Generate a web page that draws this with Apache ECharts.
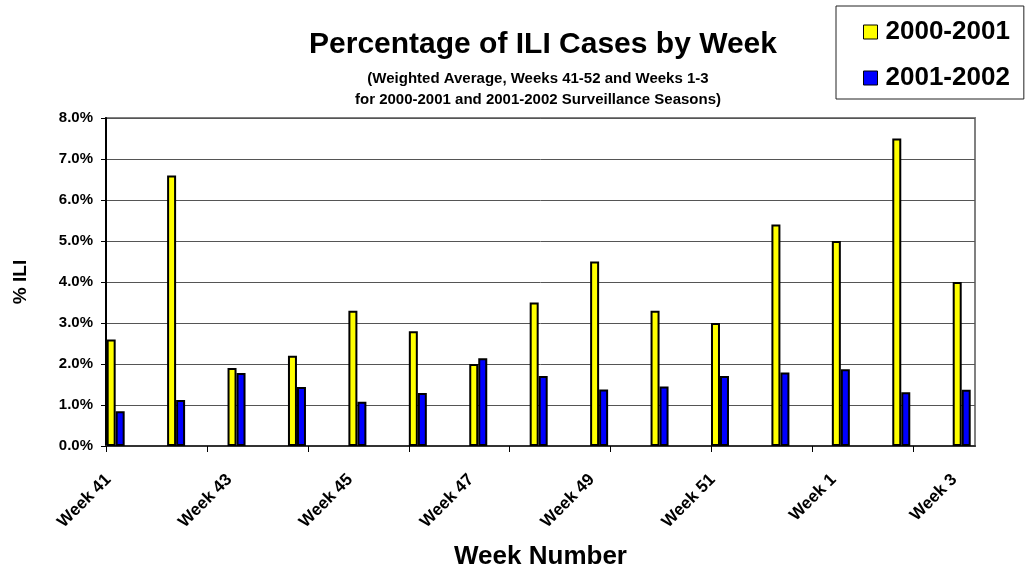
<!DOCTYPE html>
<html>
<head>
<meta charset="utf-8">
<script src="https://cdn.jsdelivr.net/npm/echarts@6/dist/echarts.min.js"></script>
<style>
html,body{margin:0;padding:0;background:#fff;}
#main{width:1026px;height:579px;}
</style>
</head>
<body>
<div id="main"></div>
<script>
// week labels, season 2000-2001 (yellow) and 2001-2002 (blue), in % ILI
var weeks = ['Week 41','Week 42','Week 43','Week 44','Week 45','Week 46','Week 47','Week 48',
             'Week 49','Week 50','Week 51','Week 52','Week 1','Week 2','Week 3'];
var season0001 = [2.6, 6.6, 1.9, 2.2, 3.3, 2.8, 2.0, 3.5, 4.5, 3.3, 3.0, 5.4, 5.0, 7.5, 4.0];
var season0102 = [0.85, 1.12, 1.78, 1.44, 1.08, 1.29, 2.14, 1.71, 1.38, 1.45, 1.71, 1.79, 1.87, 1.31, 1.37];
var labelIdx = [0, 2, 4, 6, 8, 10, 12, 14];

var FONT = '"Liberation Sans", Arial, sans-serif';

/*x轴：用数值轴放柱子，刻度和标签单独给*/
var xMin = -0.16, xMax = 14.22;
var tickStep = 1.67;
var tickVals = [];
for (var t = xMin; t <= xMax + 0.001; t += tickStep) tickVals.push(t);
// labels sit a little left of the bar pair, like the original
var labelVals = labelIdx.map(function (i) { return i - 0.12; });

function pairs(arr){
    var out = [];
    for (var i = 0; i < arr.length; i++) out.push([i, arr[i]]);
    return out;
}

var myChart = echarts.init(document.getElementById('main'));
var option = {
    backgroundColor: '#fff',
    animation: false,
    title: [
        {
            text: 'Percentage of ILI Cases by Week',
            left: 543, top: 30, padding: 0,
            textAlign: 'center',
            textStyle: {fontFamily: FONT, fontSize: 30, fontWeight: 'bold', color: '#000', lineHeight: 30}
        },
        {
            text: '(Weighted Average, Weeks 41-52 and Weeks 1-3\nfor 2000-2001 and 2001-2002 Surveillance Seasons)',
            left: 538, top: 68, padding: 0,
            textAlign: 'center',
            textStyle: {fontFamily: FONT, fontSize: 15, fontWeight: 'bold', color: '#000', lineHeight: 21.5}
        }
    ],
    legend: {
        orient: 'vertical',
        left: 836, top: 6,
        padding: [13, 14, 8, 27],
        itemGap: 20,
        itemWidth: 14, itemHeight: 14,
        icon: 'rect',
        borderColor: '#222', borderWidth: 1,
        itemStyle: {borderColor: '#000', borderWidth: 1},
        textStyle: {fontFamily: FONT, fontSize: 26, fontWeight: 'bold', color: '#000', lineHeight: 26, padding: [0, 0, 0, 3]},
        data: ['2000-2001', '2001-2002']
    },
    grid: {
        left: 106, right: 51, top: 118, bottom: 133,
        show: true, borderColor: '#808080', borderWidth: 2
    },
    xAxis: {
        type: 'value',
        min: xMin, max: xMax,
        name: 'Week Number',
        nameLocation: 'middle',
        nameGap: 98,
        nameTextStyle: {fontFamily: FONT, fontSize: 26, fontWeight: 'bold', color: '#000'},
        splitLine: {show: false},
        axisLine: {show: true, onZero: false, lineStyle: {color: '#333', width: 2}},
        axisTick: {show: true, length: 6, customValues: tickVals, lineStyle: {color: '#000', width: 1}},
        axisLabel: {
            customValues: labelVals,
            rotate: 45,
            margin: 31,
            fontFamily: FONT, fontSize: 17, fontWeight: 'bold', color: '#000',
            formatter: function (v) { return weeks[Math.round(v)]; }
        }
    },
    yAxis: {
        type: 'value',
        min: 0, max: 8, interval: 1,
        name: '% ILI',
        nameLocation: 'middle',
        nameGap: 76,
        nameTextStyle: {fontFamily: FONT, fontSize: 19, fontWeight: 'bold', color: '#000'},
        axisLine: {show: true, onZero: false, lineStyle: {color: '#000', width: 2}},
        axisTick: {show: true, length: 5, lineStyle: {color: '#000'}},
        splitLine: {show: true, lineStyle: {color: '#555', width: 1}},
        axisLabel: {
            margin: 13,
            fontFamily: FONT, fontSize: 15, fontWeight: 'bold', color: '#000',
            formatter: function (v) { return v.toFixed(1) + '%'; }
        }
    },
    series: [
        {
            name: '2000-2001',
            type: 'bar',
            barWidth: 9,
            barGap: '0%',
            itemStyle: {color: '#ffff00', borderColor: '#000', borderWidth: 2},
            data: pairs(season0001)
        },
        {
            name: '2001-2002',
            type: 'bar',
            barWidth: 9,
            barGap: '0%',
            itemStyle: {color: '#0000ff', borderColor: '#000', borderWidth: 2},
            data: pairs(season0102)
        }
    ]
};
myChart.setOption(option);
</script>
</body>
</html>
